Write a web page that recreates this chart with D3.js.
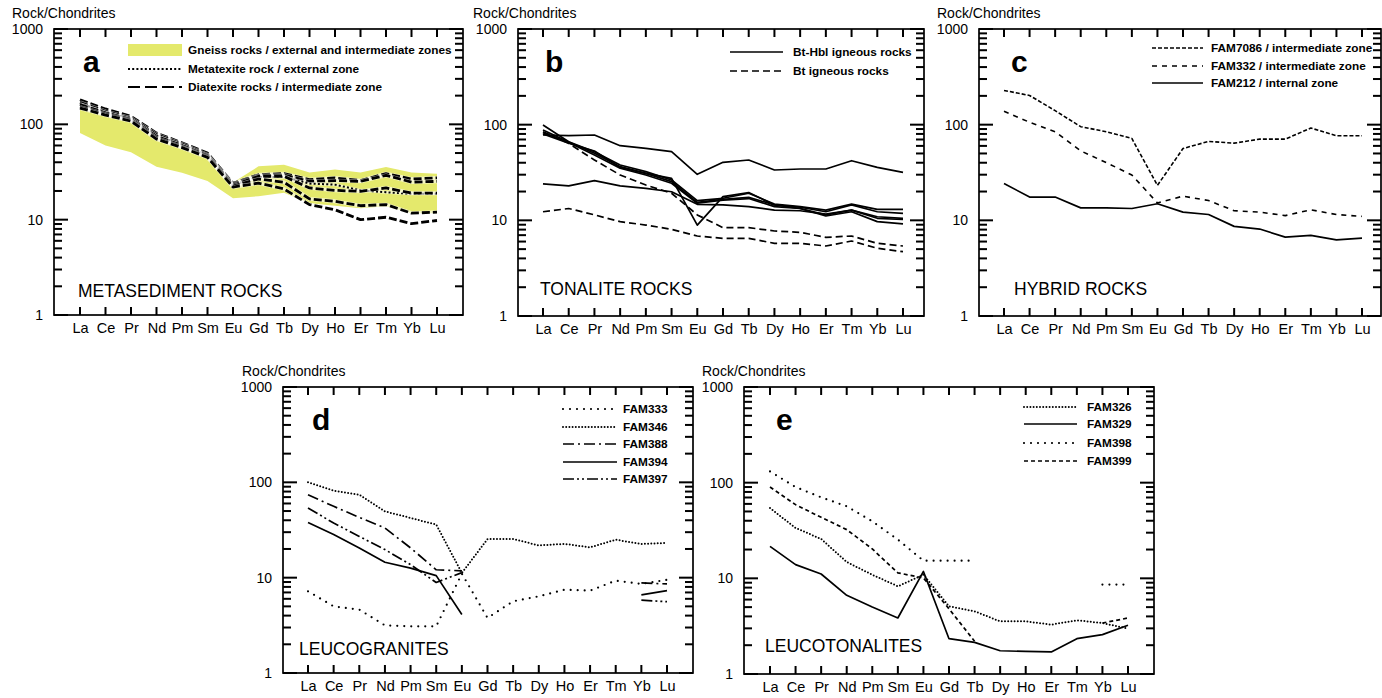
<!DOCTYPE html>
<html>
<head>
<meta charset="utf-8">
<script src="https://cdn.jsdelivr.net/npm/d3@7"></script>
<style>
  html, body { margin: 0; padding: 0; background: #fff; }
  svg { display: block; font-family: "Liberation Sans", Arial, Helvetica, sans-serif; }
</style>
</head>
<body>
<svg id="chart" width="1382" height="698"></svg>
<script>
// ---------- chondrite-normalised REE data ----------
const ELEMENTS = ["La","Ce","Pr","Nd","Pm","Sm","Eu","Gd","Tb","Dy","Ho","Er","Tm","Yb","Lu"];
const TICK_VALUES = [1, 10, 100, 1000];
const TICK_LABELS = ["1", "10", "100", "1000"];
const Y_TITLE = "Rock/Chondrites";

// (a) metasediments
const gneissLow  = [81, 60, 51, 36, 31, 25.5, 16.8, 17.6, 19.2, 14.9, 14.0, 13.2, 13.8, 11.7, 11.7];
const gneissHigh = [146, 124, 107, 73, 59, 46, 24.5, 36.3, 37.7, 31.3, 33.5, 31.3, 35.6, 31.3, 30.4];
const diatexite1 = [181, 145, 121, 81, 64, 50, 24, 29.6, 30.4, 26.3, 27.4, 25.7, 30.4, 26.7, 27.4];
const diatexite2 = [170, 137, 116, 78, 62, 48, 23.5, 29.0, 29.4, 25.2, 25.7, 25.2, 29.2, 24.8, 25.2];
const diatexite3 = [161, 132, 113, 75, 60, 47, 23, 28.5, 28.5, 21.5, 20.3, 19.8, 21.5, 19.0, 19.0];
const diatexite4 = [152, 128, 110, 72, 58, 46, 22.5, 26.7, 24.7, 16.5, 15.6, 14.0, 14.4, 11.7, 12.0];
const diatexite5 = [148, 125, 108, 70, 57, 45, 22, 24.2, 21.0, 14.4, 12.7, 10.0, 10.6, 9.1, 9.8];
const metatexite = [165, 134, 114, 76, 61, 47, 23, 28, 28, 23.9, 23.3, 20.3, 19.4, 18.7, 18.7];

// (b) tonalites
const btHbl1 = [78, 76.7, 78, 60.3, 56.6, 52.2, 30.3, 40.4, 42.7, 33.6, 34.4, 34.4, 42.0, 35.8, 31.7];
const btHbl2 = [99, 66.4, 52.2, 37.9, 32.3, 26.4, 16.1, 17.0, 19.2, 14.8, 13.9, 12.8, 14.8, 13.0, 13.0];
const btHbl3 = [88, 66, 50.2, 36.4, 31.0, 25.4, 15.4, 16.6, 17.4, 14.5, 13.7, 12.3, 14.5, 12.3, 11.8];
const btHbl4 = [82.5, 65, 48.2, 35.0, 29.8, 24.4, 15.1, 16.3, 16.9, 13.9, 13.3, 11.4, 12.8, 10.5, 10.2];
const btHbl5 = [80, 64, 53, 35.8, 31, 27.5, 8.9, 17.7, 19.5, 14.5, 13.3, 11.1, 12.3, 9.7, 9.2];
const btHbl6 = [24.0, 22.9, 26.0, 22.9, 21.6, 19.9, 14.7, 14.5, 13.9, 12.8, 12.6, 11.6, 12.8, 10.9, 10.5];
const bt1 = [84.5, 63.8, 42.7, 29.8, 23.4, 19.2, 11.4, 8.38, 8.38, 7.74, 7.49, 6.64, 6.86, 5.75, 5.39];
const bt2 = [12.3, 13.3, 11.4, 9.68, 8.93, 8.05, 6.86, 6.48, 6.48, 5.75, 5.75, 5.39, 6.08, 5.10, 4.70];

// (c) hybrids
const fam7086 = [228, 202, 140, 95.3, 84.4, 71.8, 23.2, 56.3, 66.8, 64.1, 70.6, 70.6, 92.2, 76.6, 76.6];
const fam332  = [138, 106, 84.4, 53.2, 40.1, 29.8, 15.2, 17.9, 16.1, 12.6, 12.2, 11.2, 12.9, 11.5, 11.0];
const fam212  = [24.3, 17.5, 17.5, 13.5, 13.5, 13.3, 14.9, 12.2, 11.5, 8.65, 8.11, 6.68, 6.95, 6.26, 6.52];

// (d) leucogranites
const fam333 = [7.19, 5.0, 4.62, 3.16, 3.09, 3.09, 11.0, 3.78, 5.65, 6.37, 7.48, 7.31, 9.30, 8.6, 9.5];
const fam346 = [100, 81.8, 74.2, 49.6, 42.3, 36.0, 11.2, 25.4, 25.4, 21.8, 22.6, 20.8, 25.0, 22.6, 23.1];
const fam388 = [74, 56, 42.9, 33.2, 20.5, 12.1, 11.8, null, null, null, null, null, null, 8.8, 8.6];
const fam394 = [38, 28.3, 20.5, 14.5, 12.6, 10.5, 4.1, null, null, null, null, null, null, 6.6, 7.3];
const fam397 = [53.8, 37.4, 27.1, 19.7, 13.7, 8.9, 11.3, null, null, null, null, null, null, 5.8, 5.6];

// (e) leucotonalites
const fam326 = [54.3, 33.6, 25.8, 14.8, 10.9, 8.25, 10.9, 5.1, 4.52, 3.55, 3.55, 3.28, 3.64, 3.41, 2.98];
const fam329 = [21.6, 13.9, 11.1, 6.64, 5.01, 3.85, 11.8, 2.34, 2.14, 1.75, 1.72, 1.70, 2.34, 2.58, 3.23];
const fam398 = [131, 90, 70.3, 56.6, 39.4, 25.4, 15.3, 15.3, 15.3, null, null, null, null, 8.6, 8.6];
const fam399 = [90, 58.9, 43.4, 32.3, 20.3, 11.4, 10.1, 4.8, 2.2, null, null, null, null, 3.41, 3.85];

// ---------- line styles ----------
const STYLES = {
  diatexite:  { dash: "8,3", width: 2.8, halo: true },
  diatexiteL: { dash: "12,5", width: 2.2 },
  metatexite: { dash: "2,2.2", width: 2.0, halo: true },
  solid:      { dash: null, width: 1.7 },
  dashed:     { dash: "7,4", width: 1.7 },
  fineDash:   { dash: "4,2", width: 1.6 },
  openDash:   { dash: "5,5", width: 1.6 },
  sparseDot:  { dash: "0,7", width: 2.2, cap: "round" },
  denseDot:   { dash: "0,3.2", width: 2.0, cap: "round" },
  dashDot:    { dash: "11,4,2,4", width: 1.7 },
  dashDotDot: { dash: "11,3,2,3,2,3", width: 1.7 },
  shortDash:  { dash: "4,3", width: 1.7 }
};

// ---------- panel layout ----------
const PANELS = [
  { letter: "a", title: "METASEDIMENT ROCKS",
    left: 54, right: 463, top: 29, bottom: 315, x0: 80, x1: 437,
    titleX: 78, titleY: 297, letterX: 83, letterY: 72, yTitleX: 12, yTitleY: 18,
    band: { low: gneissLow, high: gneissHigh },
    series: [
      { values: diatexite1, style: "diatexite" },
      { values: diatexite2, style: "diatexite" },
      { values: metatexite, style: "metatexite" },
      { values: diatexite3, style: "diatexite" },
      { values: diatexite4, style: "diatexite" },
      { values: diatexite5, style: "diatexite" }
    ],
    legend: { lx0: 128, lx1: 182, tx: 188, rows: [50, 69, 87],
      items: [
        { label: "Gneiss rocks / external and intermediate zones", swatch: true },
        { label: "Metatexite rock / external zone", style: "metatexite" },
        { label: "Diatexite rocks / intermediate zone", style: "diatexiteL" }
      ] } },
  { letter: "b", title: "TONALITE ROCKS",
    left: 518, right: 924, top: 29, bottom: 316, x0: 543, x1: 903,
    titleX: 540, titleY: 295, letterX: 545, letterY: 72, yTitleX: 473, yTitleY: 18,
    series: [
      { values: bt1, style: "dashed" },
      { values: bt2, style: "dashed" },
      { values: btHbl1, style: "solid" },
      { values: btHbl2, style: "solid" },
      { values: btHbl3, style: "solid" },
      { values: btHbl4, style: "solid" },
      { values: btHbl5, style: "solid" },
      { values: btHbl6, style: "solid" }
    ],
    legend: { lx0: 730, lx1: 783, tx: 793, rows: [52, 71],
      items: [
        { label: "Bt-Hbl igneous rocks", style: "solid" },
        { label: "Bt igneous rocks", style: "dashed" }
      ] } },
  { letter: "c", title: "HYBRID ROCKS",
    left: 979, right: 1381, top: 29, bottom: 316, x0: 1004, x1: 1362,
    titleX: 1014, titleY: 295, letterX: 1011, letterY: 72, yTitleX: 937, yTitleY: 18,
    series: [
      { values: fam7086, style: "fineDash" },
      { values: fam332, style: "openDash" },
      { values: fam212, style: "solid" }
    ],
    legend: { lx0: 1152, lx1: 1203, tx: 1211, rows: [48, 66, 83],
      items: [
        { label: "FAM7086 / intermediate zone", style: "fineDash" },
        { label: "FAM332 / intermediate zone", style: "openDash" },
        { label: "FAM212 / internal zone", style: "solid" }
      ] } },
  { letter: "d", title: "LEUCOGRANITES",
    left: 283, right: 693, top: 387, bottom: 673, x0: 308, x1: 667,
    titleX: 299, titleY: 655, letterX: 312, letterY: 430, yTitleX: 242, yTitleY: 376,
    series: [
      { values: fam333, style: "sparseDot" },
      { values: fam346, style: "denseDot" },
      { values: fam388, style: "dashDot" },
      { values: fam394, style: "solid" },
      { values: fam397, style: "dashDotDot" }
    ],
    legend: { lx0: 563, lx1: 617, tx: 623, rows: [409, 427, 444, 462, 479],
      items: [
        { label: "FAM333", style: "sparseDot" },
        { label: "FAM346", style: "denseDot" },
        { label: "FAM388", style: "dashDot" },
        { label: "FAM394", style: "solid" },
        { label: "FAM397", style: "dashDotDot" }
      ] } },
  { letter: "e", title: "LEUCOTONALITES",
    left: 744, right: 1154, top: 387, bottom: 674, x0: 770, x1: 1128,
    titleX: 765, titleY: 652, letterX: 776, letterY: 430, yTitleX: 702, yTitleY: 376,
    series: [
      { values: fam326, style: "denseDot" },
      { values: fam329, style: "solid" },
      { values: fam398, style: "sparseDot" },
      { values: fam399, style: "shortDash" }
    ],
    legend: { lx0: 1024, lx1: 1077, tx: 1087, rows: [407, 424, 443, 461],
      items: [
        { label: "FAM326", style: "denseDot" },
        { label: "FAM329", style: "solid" },
        { label: "FAM398", style: "sparseDot" },
        { label: "FAM399", style: "shortDash" }
      ] } }
];

const INK = "#000";
const BAND_FILL = "#e4e96c";
const FONT = '"Liberation Sans", Arial, Helvetica, sans-serif';
const svg = d3.select("#chart");

// minor log ticks 2..9 within each decade
const MINOR_TICKS = [];
[1, 10, 100].forEach(d => { for (let k = 2; k <= 9; k++) MINOR_TICKS.push(k * d); });

function applyStroke(sel, style) {
  const s = STYLES[style];
  sel.attr("fill", "none")
    .attr("stroke", INK)
    .attr("stroke-width", s.width)
    .attr("stroke-linejoin", "round")
    .attr("stroke-linecap", s.cap || "butt")
    .attr("stroke-dasharray", s.dash);
  return sel;
}

// frame tick marks, collected as small filled bars and drawn last
const TICK_W = 2;
const tickBars = [];

function drawPanel(p) {
  const g = svg.append("g").attr("class", "panel-" + p.letter);
  const x = d3.scalePoint().domain(ELEMENTS).range([p.x0, p.x1]);
  const y = d3.scaleLog().domain([1, 1000]).range([p.bottom, p.top]);

  // compositional envelope
  if (p.band) {
    const area = d3.area()
      .x((d, i) => x(ELEMENTS[i]))
      .y0((d, i) => y(p.band.low[i]))
      .y1((d, i) => y(p.band.high[i]));
    g.append("path").datum(p.band.low).attr("d", area).attr("fill", BAND_FILL);
  }

  // REE patterns
  const line = d3.line()
    .defined(d => d != null)
    .x((d, i) => x(ELEMENTS[i]))
    .y(d => y(d));
  p.series.forEach(s => {
    const st = STYLES[s.style];
    if (st.halo) {
      g.append("path").datum(s.values).attr("d", line)
        .attr("fill", "none").attr("stroke", "#fff")
        .attr("stroke-opacity", 0.6)
        .attr("stroke-width", st.width + 1.0)
        .attr("stroke-linejoin", "round");
    }
    applyStroke(g.append("path").datum(s.values).attr("d", line), s.style);
  });

  // frame
  g.append("rect")
    .attr("x", p.left).attr("y", p.top)
    .attr("width", p.right - p.left).attr("height", p.bottom - p.top)
    .attr("fill", "none").attr("stroke", INK).attr("stroke-width", 1.7);

  // inward tick bars on all four sides
  const h = TICK_W / 2;
  TICK_VALUES.forEach(v => {
    tickBars.push({ x: p.left, y: y(v) - h, w: 14, h: TICK_W });
    tickBars.push({ x: p.right - 14, y: y(v) - h, w: 14, h: TICK_W });
  });
  MINOR_TICKS.forEach(v => {
    tickBars.push({ x: p.left, y: y(v) - h, w: 8, h: TICK_W });
    tickBars.push({ x: p.right - 8, y: y(v) - h, w: 8, h: TICK_W });
  });
  ELEMENTS.forEach(e => {
    tickBars.push({ x: x(e) - h, y: p.top, w: TICK_W, h: 8 });
    tickBars.push({ x: x(e) - h, y: p.bottom - 8, w: TICK_W, h: 8 });
  });

  // decade labels (left) and element labels (bottom)
  const yAxis = g.append("g").attr("transform", `translate(${p.left},0)`)
    .call(d3.axisLeft(y).tickValues(TICK_VALUES)
      .tickFormat((d, i) => TICK_LABELS[i])
      .tickSize(0).tickPadding(11));
  const xAxis = g.append("g").attr("transform", `translate(0,${p.bottom})`)
    .call(d3.axisBottom(x).tickSize(0).tickPadding(8));
  [yAxis, xAxis].forEach(a => {
    a.select(".domain").remove();
    a.selectAll(".tick line").remove();
    a.selectAll(".tick text").attr("fill", INK).style("font-family", FONT);
  });
  yAxis.selectAll(".tick text").style("font-size", "14px");
  xAxis.selectAll(".tick text").style("font-size", "14.5px");

  // texts
  g.append("text").attr("x", p.yTitleX).attr("y", p.yTitleY)
    .attr("fill", INK).style("font-size", "14px").text(Y_TITLE);
  g.append("text").attr("x", p.letterX).attr("y", p.letterY)
    .attr("fill", INK).style("font-size", "30px").style("font-weight", "bold")
    .text(p.letter);
  g.append("text").attr("x", p.titleX).attr("y", p.titleY)
    .attr("fill", INK).style("font-size", "17.5px").text(p.title);

  // legend
  const L = p.legend;
  L.items.forEach((it, i) => {
    const cy = L.rows[i];
    if (it.swatch) {
      g.append("rect").attr("x", L.lx0).attr("y", cy - 6)
        .attr("width", L.lx1 - L.lx0).attr("height", 12).attr("fill", BAND_FILL);
    } else {
      applyStroke(g.append("line")
        .attr("x1", L.lx0).attr("x2", L.lx1).attr("y1", cy).attr("y2", cy), it.style);
    }
    g.append("text").attr("x", L.tx).attr("y", cy + 4.2)
      .attr("fill", INK).style("font-size", "11.8px").style("font-weight", "bold")
      .text(it.label);
  });
}

PANELS.forEach(drawPanel);

svg.append("g").attr("class", "frame-ticks")
  .selectAll("rect").data(tickBars).join("rect")
  .attr("x", d => d.x).attr("y", d => d.y)
  .attr("width", d => d.w).attr("height", d => d.h)
  .attr("fill", INK);
</script>
</body>
</html>
